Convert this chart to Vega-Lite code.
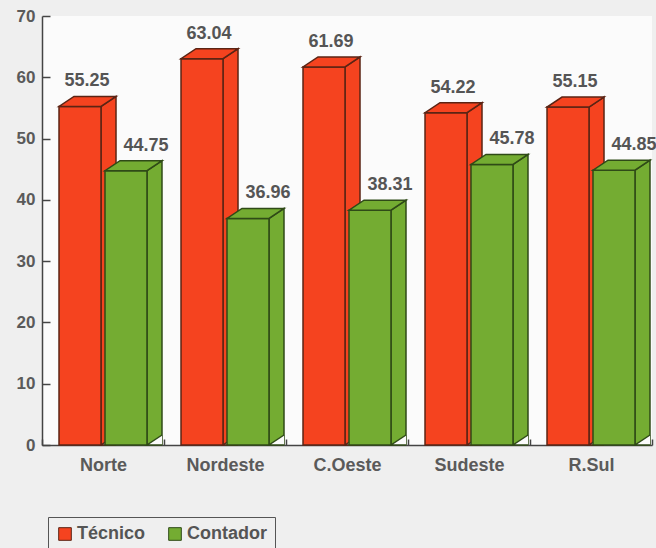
{
  "$schema": "https://vega.github.io/schema/vega-lite/v6.json",
  "width": 610,
  "height": 429,
  "autosize": {"type": "none"},
  "padding": {"left": 42, "top": 16, "right": 4, "bottom": 103},
  "background": "#efefef",
  "config": {
    "view": {"fill": "#fbfbfb", "stroke": null},
    "font": "Liberation Sans",
    "axis": {"labelFont": "Liberation Sans", "labelFontSize": 18, "labelFontWeight": "bold", "labelColor": "#5a5a5a", "domainColor": "#444", "tickColor": "#444", "domainWidth": 1.5, "tickWidth": 1.5, "zindex": 1}
  },
  "data": {
    "values": [
      {"region": "Norte", "serie": "Técnico", "value": 55.25},
      {"region": "Norte", "serie": "Contador", "value": 44.75},
      {"region": "Nordeste", "serie": "Técnico", "value": 63.04},
      {"region": "Nordeste", "serie": "Contador", "value": 36.96},
      {"region": "C.Oeste", "serie": "Técnico", "value": 61.69},
      {"region": "C.Oeste", "serie": "Contador", "value": 38.31},
      {"region": "Sudeste", "serie": "Técnico", "value": 54.22},
      {"region": "Sudeste", "serie": "Contador", "value": 45.78},
      {"region": "R.Sul", "serie": "Técnico", "value": 55.15},
      {"region": "R.Sul", "serie": "Contador", "value": 44.85}
    ]
  },
  "encoding": {
    "x": {"field": "region", "type": "nominal", "sort": null,
      "scale": {"paddingInner": 0, "paddingOuter": 0},
      "axis": {"title": null, "labelAngle": 0, "tickBand": "extent", "tickSize": -6, "labelPadding": 17}},
    "xOffset": {"field": "serie", "type": "nominal", "sort": ["Técnico", "Contador"],
      "scale": {"paddingInner": 0.087, "paddingOuter": 0.37}},
    "y": {"field": "value", "type": "quantitative",
      "scale": {"domain": [0, 70], "nice": false},
      "axis": {"title": null, "values": [0, 10, 20, 30, 40, 50, 60, 70], "grid": false, "tickSize": -8, "labelPadding": 15, "labelFontSize": 17}}
  },
  "layer": [
    {
      "mark": {"type": "point", "shape": "M 21 0 L 36 -10 L 36 600 L 21 610 Z", "size": 4, "filled": true, "opacity": 1, "strokeWidth": 1.5, "clip": true},
      "encoding": {
        "color": {"field": "serie", "type": "nominal", "sort": ["Técnico", "Contador"], "scale": {"domain": ["Técnico", "Contador"], "range": ["#f5431f", "#74ac32"]},
          "legend": {"title": null, "orient": "none", "legendX": 6, "legendY": 501, "direction": "horizontal", "symbolType": "square", "symbolSize": 160, "symbolStrokeColor": "#333", "symbolStrokeWidth": 1, "labelFontSize": 18, "labelFontWeight": "bold", "labelColor": "#555", "labelFont": "Liberation Sans", "strokeColor": "#555", "padding": 8, "columnPadding": 20, "labelOffset": 3}},
        "stroke": {"field": "serie", "type": "nominal", "scale": {"domain": ["Técnico", "Contador"], "range": ["#5b2414", "#2f4a17"]}, "legend": null}
      }
    },
    {
      "mark": {"type": "point", "shape": "M 36 0 L 21 0 L 36 -10", "size": 4, "filled": true, "opacity": 1, "fill": "#fbfbfb", "strokeWidth": 1.5},
      "encoding": {
        "y": {"datum": 0},
        "stroke": {"field": "serie", "type": "nominal", "legend": null}
      }
    },
    {
      "mark": {"type": "bar", "strokeWidth": 1.5},
      "encoding": {
        "color": {"field": "serie", "type": "nominal"},
        "stroke": {"field": "serie", "type": "nominal", "legend": null}
      }
    },
    {
      "mark": {"type": "point", "shape": "M -21 0 L 21 0 L 36 -10 L -6 -10 Z", "size": 4, "filled": true, "opacity": 1, "strokeWidth": 1.5},
      "encoding": {
        "color": {"field": "serie", "type": "nominal"},
        "stroke": {"field": "serie", "type": "nominal", "legend": null}
      }
    },
    {
      "transform": [{"filter": "datum.serie === 'Técnico'"}],
      "mark": {"type": "text", "dx": 7, "dy": -20, "baseline": "alphabetic", "fontSize": 18, "fontWeight": "bold", "color": "#555", "font": "Liberation Sans"},
      "encoding": {"text": {"field": "value", "type": "quantitative", "format": ".2f"}}
    },
    {
      "transform": [{"filter": "datum.serie === 'Contador'"}],
      "mark": {"type": "text", "dx": 20, "dy": -20, "baseline": "alphabetic", "fontSize": 18, "fontWeight": "bold", "color": "#555", "font": "Liberation Sans"},
      "encoding": {"text": {"field": "value", "type": "quantitative", "format": ".2f"}}
    }
  ]
}
